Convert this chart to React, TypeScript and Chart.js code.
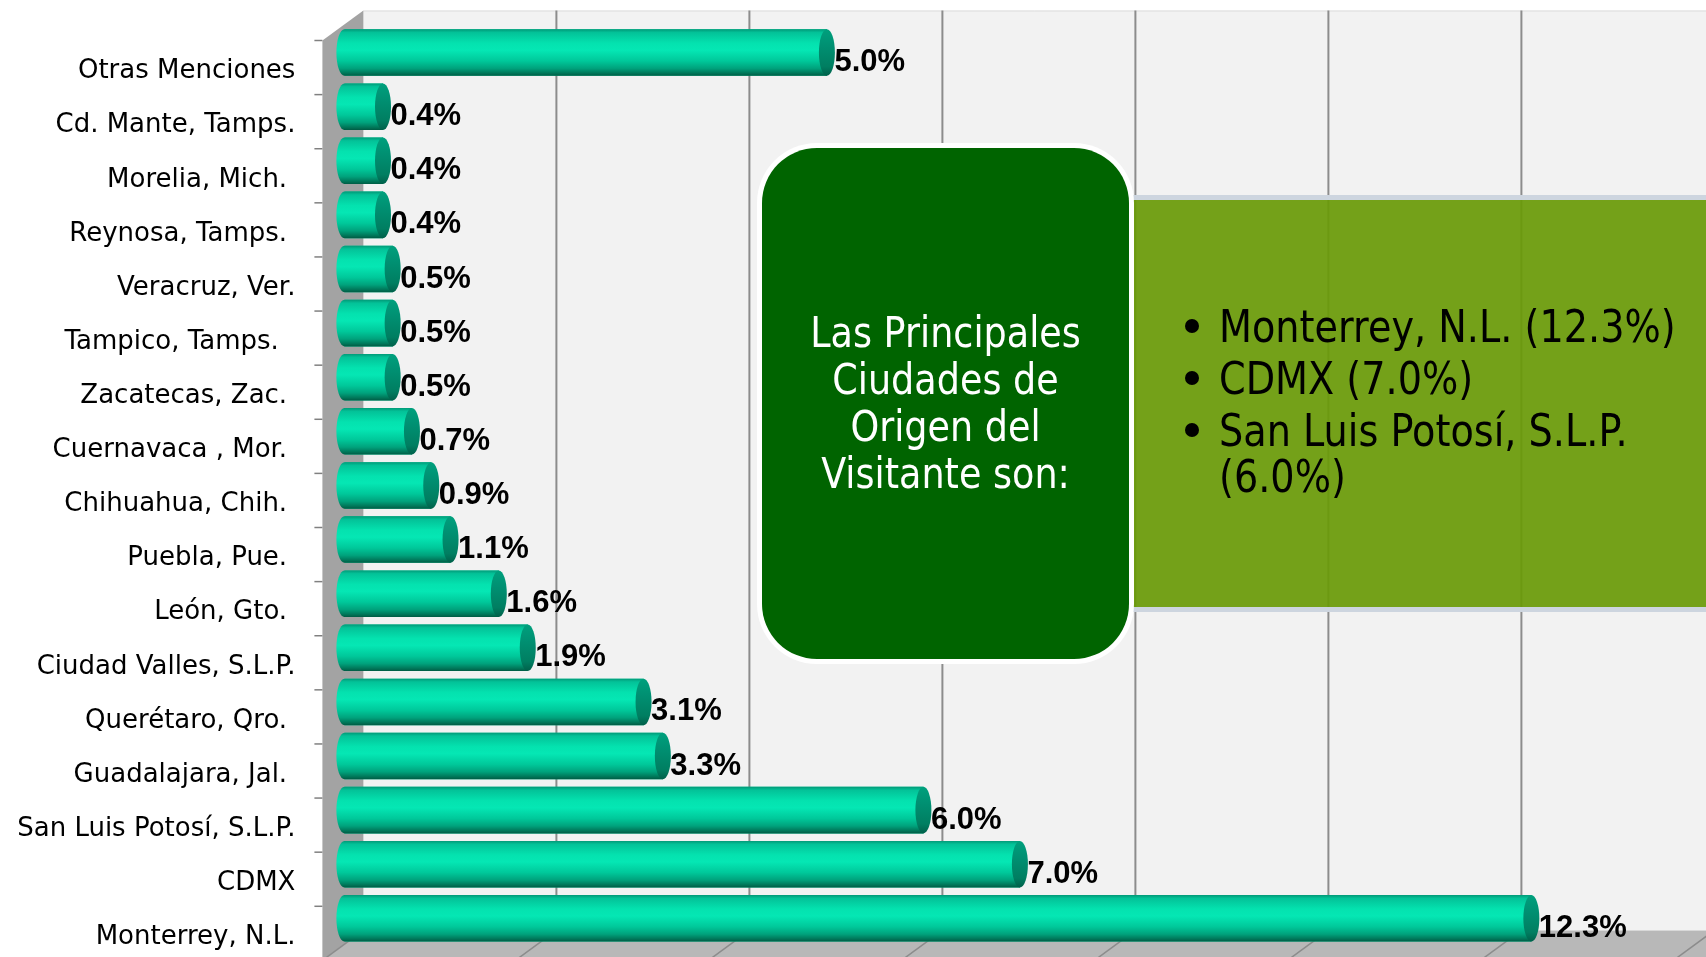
import React, { useEffect, useRef } from "react";
import { Chart, registerables } from "chart.js";

Chart.register(...registerables);

const categories: string[] = [
  "Otras Menciones",
  "Cd. Mante, Tamps.",
  "Morelia, Mich. ",
  "Reynosa, Tamps. ",
  "Veracruz, Ver.",
  "Tampico, Tamps.  ",
  "Zacatecas, Zac. ",
  "Cuernavaca , Mor. ",
  "Chihuahua, Chih. ",
  "Puebla, Pue. ",
  "León, Gto. ",
  "Ciudad Valles, S.L.P.",
  "Querétaro, Qro. ",
  "Guadalajara, Jal. ",
  "San Luis Potosí, S.L.P.",
  "CDMX",
  "Monterrey, N.L.",
];
const values: number[] = [5.0, 0.4, 0.4, 0.4, 0.5, 0.5, 0.5, 0.7, 0.9, 1.1, 1.6, 1.9, 3.1, 3.3, 6.0, 7.0, 12.3];
const axisMax = 14;
const axisStep = 2;
const boxTitle: string[] = ["Las Principales", "Ciudades de", "Origen del", "Visitante son:"];
const highlights: string[][] = [
  ["Monterrey, N.L. (12.3%)"],
  ["CDMX (7.0%)"],
  ["San Luis Potosí, S.L.P.", "(6.0%)"],
];

const BACK_DX = 19;
const BACK_DY = 15;
const FRONT_DX = 22;
const FRONT_DY = 15;

const wallsPlugin = {
  id: "walls3d",
  beforeDraw(chart: any) {
    const { ctx, chartArea: ca, scales } = chart;
    const xs = scales.x;
    const W = chart.width;
    const x0 = xs.getPixelForValue(0);
    const backL = x0 + BACK_DX;
    const frontL = x0 - FRONT_DX;
    const backT = ca.top - BACK_DY;
    const backB = ca.bottom - BACK_DY;
    const frontT = ca.top + FRONT_DY;
    const frontB = ca.bottom + FRONT_DY;
    ctx.save();
    // back wall
    ctx.fillStyle = "#F2F2F2";
    ctx.fillRect(backL, backT, W - backL + 5, backB - backT);
    ctx.strokeStyle = "#DCDCDC";
    ctx.lineWidth = 1;
    ctx.beginPath();
    ctx.moveTo(backL, backT + 0.5);
    ctx.lineTo(W, backT + 0.5);
    ctx.stroke();
    // gridlines
    ctx.strokeStyle = "#8C8C8C";
    ctx.lineWidth = 2;
    for (let v = axisStep; v <= axisMax; v += axisStep) {
      const gx = xs.getPixelForValue(v) + BACK_DX;
      ctx.beginPath();
      ctx.moveTo(gx, backT);
      ctx.lineTo(gx, backB);
      ctx.stroke();
    }
    // side wall
    ctx.fillStyle = "#A3A3A3";
    ctx.beginPath();
    ctx.moveTo(frontL, frontT);
    ctx.lineTo(backL, backT);
    ctx.lineTo(backL, backB);
    ctx.lineTo(frontL, frontB);
    ctx.closePath();
    ctx.fill();
    // floor
    ctx.fillStyle = "#B8B8B8";
    ctx.beginPath();
    ctx.moveTo(backL, backB);
    ctx.lineTo(W + 60, backB);
    ctx.lineTo(W + 60 - BACK_DX - FRONT_DX, frontB);
    ctx.lineTo(frontL, frontB);
    ctx.closePath();
    ctx.fill();
    ctx.strokeStyle = "#8C8C8C";
    ctx.lineWidth = 1.5;
    for (let v = 0; v <= axisMax + axisStep; v += axisStep) {
      const gx = xs.getPixelForValue(v);
      ctx.beginPath();
      ctx.moveTo(gx + BACK_DX, backB);
      ctx.lineTo(gx - FRONT_DX, frontB);
      ctx.stroke();
    }
    // ticks on the front edge
    const band = (ca.bottom - ca.top) / categories.length;
    ctx.strokeStyle = "#808080";
    ctx.lineWidth = 1.5;
    for (let i = 0; i <= categories.length; i++) {
      const ty = ca.top + i * band + FRONT_DY;
      ctx.beginPath();
      ctx.moveTo(frontL - 8, ty);
      ctx.lineTo(frontL, ty);
      ctx.stroke();
    }
    ctx.restore();
  },
};

const barsPlugin = {
  id: "cylinders",
  afterDatasetsDraw(chart: any) {
    const { ctx } = chart;
    const meta = chart.getDatasetMeta(0);
    ctx.save();
    meta.data.forEach((bar: any, i: number) => {
      const p = bar.getProps(["x", "y", "base", "height"], true);
      const xe = p.x;
      const yc = p.y;
      const base = p.base;
      const h = p.height;
      const top = yc - h / 2;
      const bottom = yc + h / 2;
      const rx = 8;
      const g = ctx.createLinearGradient(0, top, 0, bottom);
      g.addColorStop(0, "#019A78");
      g.addColorStop(0.07, "#03C298");
      g.addColorStop(0.3, "#04E2AF");
      g.addColorStop(0.45, "#05E7B4");
      g.addColorStop(0.68, "#00C89A");
      g.addColorStop(0.84, "#00A27C");
      g.addColorStop(0.94, "#00785A");
      g.addColorStop(1, "#005C44");
      ctx.beginPath();
      ctx.moveTo(xe, top);
      ctx.lineTo(base, top);
      ctx.ellipse(base, yc, rx, h / 2, 0, -Math.PI / 2, Math.PI / 2, true);
      ctx.lineTo(xe, bottom);
      ctx.closePath();
      ctx.fillStyle = g;
      ctx.fill();
      const cg = ctx.createLinearGradient(0, top, 0, bottom);
      cg.addColorStop(0, "#00A07D");
      cg.addColorStop(0.35, "#009072");
      cg.addColorStop(0.8, "#007E61");
      cg.addColorStop(1, "#00604A");
      ctx.beginPath();
      ctx.ellipse(xe, yc, rx, h / 2, 0, 0, Math.PI * 2);
      ctx.fillStyle = cg;
      ctx.fill();
      // value label
      ctx.fillStyle = "#000000";
      ctx.font = 'bold 31px "Liberation Sans", Arial, sans-serif';
      ctx.textAlign = "left";
      ctx.textBaseline = "alphabetic";
      ctx.fillText(values[i].toFixed(1) + "%", xe + 7.5, yc + 18.5);
    });
    ctx.restore();
  },
};

const boxesPlugin = {
  id: "boxes",
  afterDraw(chart: any) {
    const { ctx } = chart;
    const W = chart.width;
    ctx.save();
    // olive box
    ctx.fillStyle = "rgba(105,154,7,0.92)";
    ctx.fillRect(1120, 200, W - 1120 + 10, 407);
    ctx.strokeStyle = "#CDD5DF";
    ctx.lineWidth = 5;
    ctx.strokeRect(1117.5, 197.5, W - 1117.5 + 20, 412);
    // dark green rounded box with white border
    ctx.fillStyle = "#FFFFFF";
    ctx.beginPath();
    ctx.roundRect(757, 143, 377, 521, 60);
    ctx.fill();
    ctx.fillStyle = "#006400";
    ctx.beginPath();
    ctx.roundRect(762, 148, 367, 511, 55);
    ctx.fill();
    // box title text
    ctx.fillStyle = "#FFFFFF";
    ctx.font = '42px "DejaVu Sans", sans-serif';
    ctx.textAlign = "center";
    ctx.textBaseline = "alphabetic";
    const cx = 945.5;
    boxTitle.forEach((line, k) => {
      ctx.save();
      ctx.translate(cx, 347 + k * 47);
      ctx.scale(0.87, 1);
      ctx.fillText(line, 0, 0);
      ctx.restore();
    });
    // bullet list
    ctx.fillStyle = "#000000";
    ctx.font = '44px "DejaVu Sans", sans-serif';
    ctx.textAlign = "left";
    let baseline = 342;
    highlights.forEach((item) => {
      ctx.beginPath();
      ctx.arc(1192, baseline - 16, 7, 0, Math.PI * 2);
      ctx.fill();
      item.forEach((line, j) => {
        ctx.save();
        ctx.translate(1219, baseline);
        ctx.scale(0.868, 1);
        ctx.fillText(line, 0, 0);
        ctx.restore();
        if (j < item.length - 1) baseline += 46;
      });
      baseline += 52;
    });
    ctx.restore();
  },
};

export default function App() {
  const canvasRef = useRef<HTMLCanvasElement | null>(null);

  useEffect(() => {
    document.body.style.margin = "0";
    document.body.style.background = "#FFFFFF";
    const canvas = canvasRef.current;
    if (!canvas) return;
    const chart = new Chart(canvas, {
      type: "bar",
      data: {
        labels: categories,
        datasets: [
          {
            data: values,
            backgroundColor: "#00C896",
            borderWidth: 0,
            categoryPercentage: 0.86,
            barPercentage: 1,
          },
        ],
      },
      options: {
        animation: false,
        responsive: false,
        maintainAspectRatio: false,
        indexAxis: "y",
        layout: { padding: { top: 25.5, bottom: 11.6, right: 10.6, left: 0 } },
        plugins: {
          legend: { display: false },
          tooltip: { enabled: false },
        },
        scales: {
          x: { display: false, min: 0, max: axisMax },
          y: {
            position: "left",
            grid: { display: false, drawTicks: true, tickLength: 49 },
            border: { display: false },
            ticks: {
              autoSkip: false,
              color: "#000000",
              padding: 0,
              labelOffset: 19,
              font: { family: '"DejaVu Sans", sans-serif', size: 26 },
            },
            afterFit: (scale: any) => {
              scale.width = 344.4;
              scale.paddingTop = 0;
              scale.paddingBottom = 0;
            },
          },
        },
      } as any,
      plugins: [wallsPlugin, barsPlugin, boxesPlugin],
    });
    return () => chart.destroy();
  }, []);

  return (
    <div style={{ position: "absolute", left: 0, top: 0, width: 1706, height: 957, background: "#FFFFFF" }}>
      <canvas ref={canvasRef} width={1706} height={957} style={{ display: "block" }} />
    </div>
  );
}
